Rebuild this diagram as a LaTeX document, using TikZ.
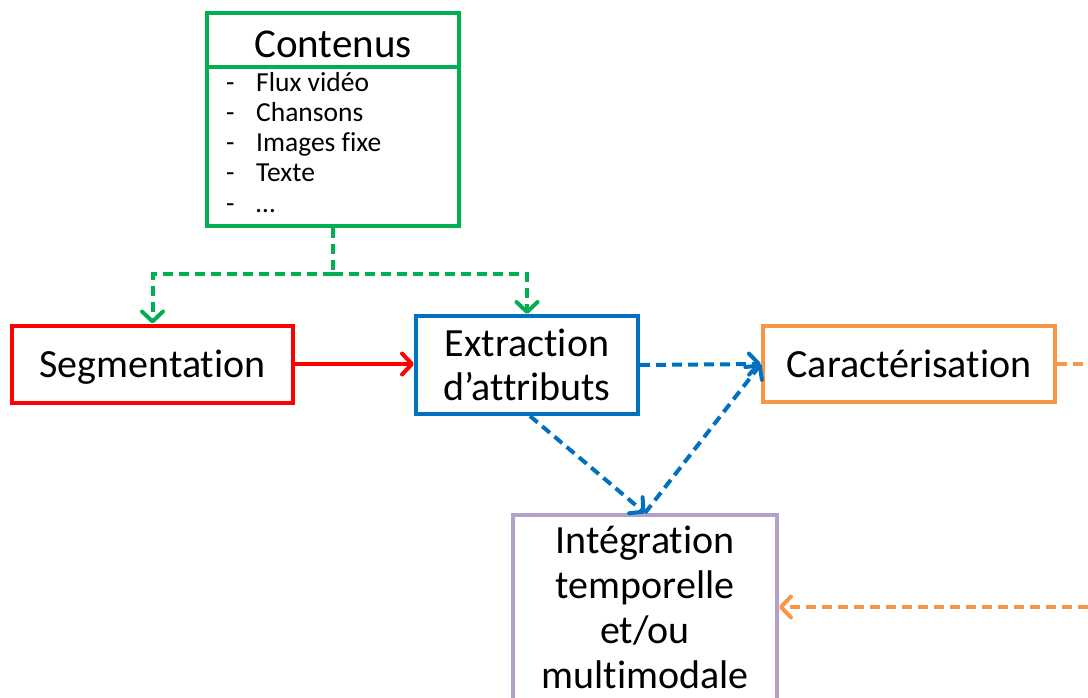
\documentclass[tikz,border=0pt]{standalone}
\usepackage{fontspec}
\setmainfont{Carlito}[Ligatures={NoCommon}]
\usetikzlibrary{arrows.meta}
\definecolor{cgreen}{HTML}{00B050}
\definecolor{cred}{HTML}{FF0000}
\definecolor{cblue}{HTML}{0070C0}
\definecolor{corange}{HTML}{F79646}
\definecolor{cpurple}{HTML}{B3A2C7}
\tikzset{
  boxnode/.style={draw=#1, line width=4pt, inner sep=0pt, align=center, text=black, font=\fontsize{40}{44}\selectfont},
  onelinebox/.style={boxnode=#1, text height=32pt, text depth=6pt},
  itemtext/.style={anchor=base west, inner sep=0pt, text=black, font=\fontsize{27.5}{30}\selectfont},
  conn/.style={line width=4pt, -{Straight Barb[length=10pt,width=21pt,line cap=round,line join=round]}},
  dashconn/.style={conn, dash pattern=on 10pt off 6pt},
}
\begin{document}
\begin{tikzpicture}[x=1pt,y=-1pt]
\useasboundingbox (0,0) rectangle (1088,698);
\clip (0,0) rectangle (1088,698);
% boxes
\node[boxnode=cgreen, minimum width=252pt, minimum height=213pt] (cont) at (333,119.5) {};
\draw[cgreen, line width=4pt] (cont.west |- 0,67) coordinate (dl) -- (cont.east |- 0,67) coordinate (dr);
\node[inner sep=0pt, anchor=base, text=black, font=\fontsize{41}{41}\selectfont] (ctitle) at (333,58) {Contenus};
\foreach \t [count=\i] in {Flux vidéo, Chansons, Images fixe, Texte, …}{
  \node[itemtext] (d\i) at (226,{62+30*\i}) {-};
  \node[itemtext] (it\i) at (256,{62+30*\i}) {\t};
}
\node[onelinebox=cred, minimum width=281pt, minimum height=77pt] (seg) at (152.5,364) {Segmentation};
\node[boxnode=cblue, minimum width=222pt, minimum height=98pt] (ext) at (527,365) {Extraction\\d’attributs};
\node[onelinebox=corange, minimum width=292pt, minimum height=76pt] (car) at (909,364) {Caractérisation};
\node[boxnode=cpurple, minimum width=264pt, minimum height=196pt] (integ) at (645,613) {};
\node[inner sep=0pt, align=center, text=black, font=\fontsize{40}{45}\selectfont] (integtext) at (645,607) {Intégration\\temporelle\\et/ou\\multimodale};
% connectors
\draw[cgreen, line width=4pt, dash pattern=on 10pt off 6pt] (cont.south) -- ++(0,46) coordinate (gj);
\draw[cgreen, dashconn] (gj) -| (seg.north);
\draw[cgreen, dashconn] (gj) -| (ext.north);
\draw[cred, conn] (seg.east) -- (ext.west |- seg.east);
\draw[cblue, dashconn] (ext.east) -- (car.west);
\draw[cblue, dashconn] ([xshift=3pt]ext.south) -- (integ.north);
\draw[cblue, dashconn] (integ.north) -- (car.west);
\draw[corange, dashconn] (car.east) -- ++(70,0) |- (integ.east |- integtext.center);
\end{tikzpicture}
\end{document}
